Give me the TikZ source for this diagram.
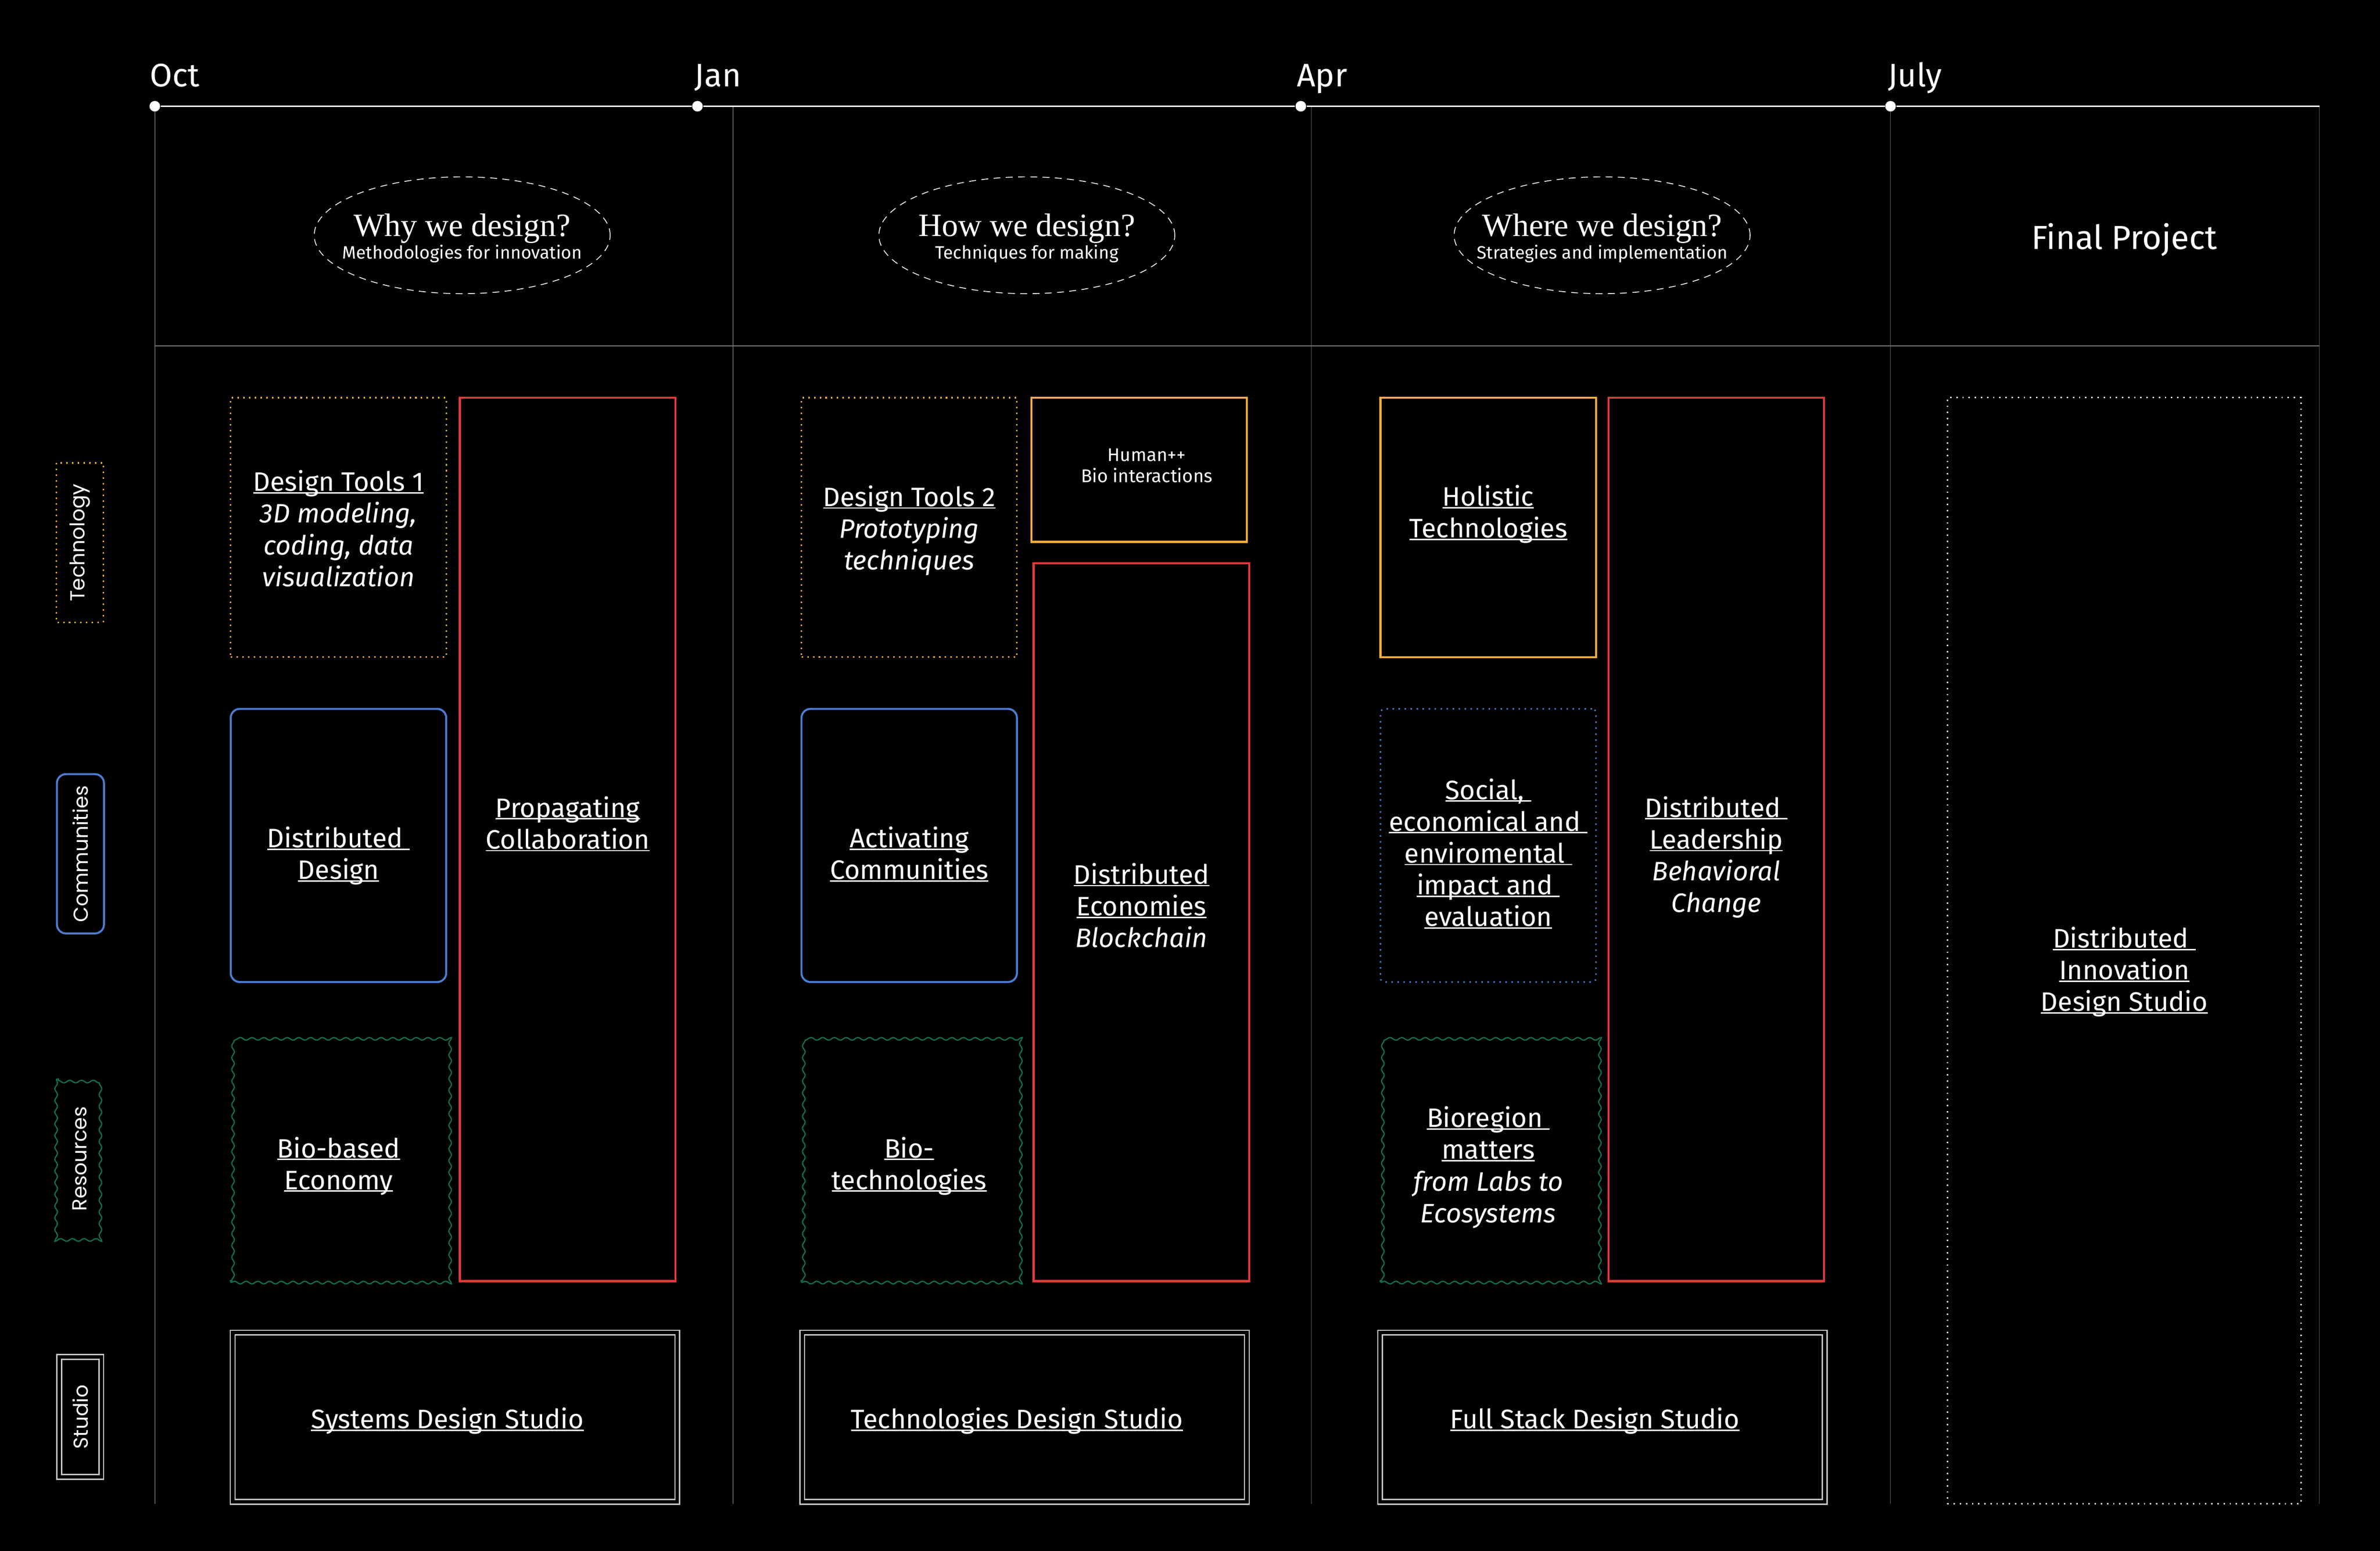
\documentclass[tikz,border=0pt]{standalone}
\usepackage{fontspec}
\setmainfont{Fira Sans}
\newfontfamily\serifface{Liberation Serif}
\newfontfamily\axisface{Poppins}
\usetikzlibrary{positioning, shapes.geometric, decorations.pathmorphing}

\definecolor{techorange}{RGB}{246,174,60}
\definecolor{leadred}{RGB}{226,58,58}
\definecolor{commblue}{RGB}{76,124,210}
\definecolor{resgreen}{RGB}{16,112,84}
\definecolor{gridgray}{RGB}{92,92,92}
\definecolor{rulegray}{RGB}{128,128,128}
\definecolor{studiogray}{RGB}{200,200,200}

\newcommand\boxfont{\fontsize{10pt}{11.9pt}\selectfont}
\newcommand\humanfont{\fontsize{6.9pt}{8pt}\selectfont}
\newcommand\subqfont{\fontsize{6.7pt}{8.5pt}\selectfont}
\newcommand\questfont{\serifface\fontsize{12.2pt}{8.5pt}\selectfont}
\newcommand\monthfont{\fontsize{12.2pt}{14pt}\selectfont}
\newcommand\finalfont{\fontsize{12.5pt}{15pt}\selectfont}
\newcommand\axisfont{\axisface\fontsize{7.6pt}{9pt}\selectfont}
\newcommand\lineunder[1]{\setbox0\hbox{#1}\rlap{\rule[-0.9pt]{\wd0}{0.5pt}}\box0}

\begin{document}
\begin{tikzpicture}[x=0.02cm, y=-0.02cm,
        grid line/.style={draw=gridgray, line width=0.28pt},
        timeline/.style={draw=white, line width=0.7pt},
        dot/.style={circle, fill=white, inner sep=0pt, minimum size=0.14cm},
        month node/.style={text=white, inner sep=0pt, font=\monthfont, anchor=base west},
        question node/.style={ellipse, draw=white, line width=0.3pt, dash pattern=on 2.6pt off 2pt,
            minimum width=3.9cm, minimum height=1.54cm, inner sep=0pt},
        question text/.style={text=white, align=center, inner sep=0pt, font=\subqfont, yshift=-0.04cm},
        box text/.style={text=white, align=center, inner sep=0pt, font=\boxfont},
        cell/.style={rectangle, inner sep=0pt, minimum width=2.84cm},
        tech dots/.style={draw=techorange, line width=0.55pt, dash pattern=on 0.55pt off 1.6pt},
        tech line/.style={draw=techorange, line width=0.8pt},
        lead line/.style={draw=leadred, line width=0.85pt},
        comm line/.style={draw=commblue, line width=0.75pt, rounded corners=3.4pt},
        comm dots/.style={draw=commblue, line width=0.55pt, dash pattern=on 0.55pt off 1.7pt, rounded corners=1.5pt},
        res line/.style={draw=resgreen, line width=0.45pt, decorate,
            decoration={snake, segment length=4.4pt, amplitude=0.5pt}},
        studio line/.style={draw=studiogray, line width=0.45pt, double=black, double distance=1.3pt},
        studio box/.style={rectangle, studio line, inner sep=0pt, minimum width=5.86cm, minimum height=2.23cm},
        final box/.style={rectangle, draw=white, line width=0.5pt, dash pattern=on 0.5pt off 1.8pt,
            inner sep=0pt, minimum width=4.66cm, minimum height=14.58cm},
        axis node/.style={rectangle, rotate=90, inner sep=0pt, minimum width=2.1cm, minimum height=0.62cm,
            text=white, font=\axisfont}]

    \fill[black] (0,0) rectangle (1568,1021.8);

    % columns and header rule
    \foreach \x in {102,483,864,1245.5,1528}
        \draw[grid line] (\x,70) -- (\x,991);
    \draw[grid line, draw=rulegray, line width=0.35pt] (102,228) -- (1528,228);

    % timeline
    \node[dot] (oct) at (102,70) {};
    \node[dot] (jan) at (459.5,70) {};
    \node[dot] (apr) at (857,70) {};
    \node[dot] (july) at (1245.5,70) {};
    \coordinate (timeline end) at (1528,70);
    \draw[timeline] (oct) -- (jan) -- (apr) -- (july) -- (timeline end);

    \node[month node] (oct label) at ([shift={(-3.6,-13)}]oct) {Oct};
    \node[month node] (jan label) at ([shift={(-2.2,-13)}]jan) {Jan};
    \node[month node] (apr label) at ([shift={(-3,-13)}]apr) {Apr};
    \node[month node] (july label) at ([shift={(-2.1,-13)}]july) {July};

    % questions
    \node[question node] (why) at (304.5,155) {};
    \node[question text] (why text) at (why) {{\questfont Why we design?}\\Methodologies for innovation};
    \node[question node] (how) at (676.5,155) {};
    \node[question text] (how text) at (how) {{\questfont How we design?}\\Techniques for making};
    \node[question node] (where) at (1055.5,155) {};
    \node[question text] (where text) at (where) {{\questfont Where we design?}\\Strategies and implementation};
    \node[text=white, inner sep=0pt, font=\finalfont] (final title) at (1399.5,158) {Final Project};

    % row labels
    \node[axis node, tech dots] (technology) at (52.5,357.5) {Technology};
    \node[axis node, comm line] (communities) at (53,562.5) {Communities};
    \node[axis node, res line] (resources) at (52.5,763.5) {Resources};
    \node[axis node, studio line, minimum width=1.58cm, minimum height=0.556cm] (studio) at (52.9,933.5) {Studio};

    % first term
    \node[cell, tech dots, minimum height=3.42cm] (tools1) at (223,347.5) {};
    \node[cell, lead line, minimum height=11.64cm] (propagate) at (374,553) {};
    \node[cell, comm line, minimum height=3.6cm] (distdesign) at (223,557) {};
    \node[cell, res line, minimum height=3.28cm] (bioeco) at (223,763) {};
    \node[studio box] (systems) at (299.75,933.7) {};

    \node[box text, below=0.96cm of tools1.north] (tools1 text)
        {\lineunder{Design Tools 1}\\\textit{3D modeling,}\\\textit{coding, data}\\\textit{visualization}};
    \node[box text, below=5.26cm of propagate.north] (propagate text)
        {\lineunder{Propagating}\\\lineunder{Collaboration}};
    \node[box text, below=1.56cm of distdesign.north] (distdesign text)
        {\lineunder{Distributed\ }\\\lineunder{Design}};
    \node[box text, below=1.36cm of bioeco.north] (bioeco text)
        {\lineunder{Bio-based}\\\lineunder{Economy}};
    \node[box text, xshift=-0.1cm, yshift=-0.05cm] (systems text) at (systems)
        {\lineunder{Systems Design Studio}};

    % second term
    \node[cell, tech dots, minimum height=3.42cm] (tools2) at (599,347.5) {};
    \node[cell, tech line, minimum height=1.9cm] (human) at (750.5,309.5) {};
    \node[cell, lead line, minimum height=9.46cm] (economies) at (752,607.5) {};
    \node[cell, comm line, minimum height=3.6cm] (activate) at (599,557) {};
    \node[cell, res line, minimum height=3.28cm] (biotech) at (599,763) {};
    \node[studio box] (technologies) at (675,933.7) {};

    \node[box text, below=1.16cm of tools2.north] (tools2 text)
        {\lineunder{Design Tools 2}\\\textit{Prototyping}\\\textit{techniques}};
    \node[box text, font=\humanfont, xshift=0.1cm, yshift=0.056cm] (human text) at (human)
        {Human++\\Bio interactions};
    \node[box text, below=3.96cm of economies.north] (economies text)
        {\lineunder{Distributed}\\\lineunder{Economies}\\\textit{Blockchain}};
    \node[box text, below=1.56cm of activate.north] (activate text)
        {\lineunder{Activating}\\\lineunder{Communities}};
    \node[box text, below=1.36cm of biotech.north] (biotech text)
        {\lineunder{Bio-}\\\lineunder{technologies}};
    \node[box text, xshift=-0.1cm, yshift=-0.05cm] (technologies text) at (technologies)
        {\lineunder{Technologies Design Studio}};

    % third term
    \node[cell, tech line, minimum height=3.42cm] (holistic) at (980.5,347.5) {};
    \node[cell, lead line, minimum height=11.64cm] (leadership) at (1130.7,553) {};
    \node[cell, comm dots, minimum height=3.6cm] (impact) at (980.5,557) {};
    \node[cell, res line, minimum height=3.28cm] (bioregion) at (980.5,763) {};
    \node[studio box] (fullstack) at (1055.7,933.7) {};

    \node[box text, below=1.16cm of holistic.north] (holistic text)
        {\lineunder{Holistic}\\\lineunder{Technologies}};
    \node[box text, below=5.26cm of leadership.north] (leadership text)
        {\lineunder{Distributed\ }\\\lineunder{Leadership}\\\textit{Behavioral}\\\textit{Change}};
    \node[box text, below=0.92cm of impact.north] (impact text)
        {\lineunder{Social,\ }\\\lineunder{economical and\ }\\\lineunder{enviromental\ }\\\lineunder{impact and\ }\\\lineunder{evaluation}};
    \node[box text, below=0.96cm of bioregion.north] (bioregion text)
        {\lineunder{Bioregion\ }\\\lineunder{matters}\\\textit{from Labs to}\\\textit{Ecosystems}};
    \node[box text, xshift=-0.1cm, yshift=-0.05cm] (fullstack text) at (fullstack)
        {\lineunder{Full Stack Design Studio}};

    % final project
    \node[final box] (innovation) at (1399.5,626.3) {};
    \node[box text, below=6.98cm of innovation.north] (innovation text)
        {\lineunder{Distributed\ }\\\lineunder{Innovation}\\\lineunder{Design Studio}};
\end{tikzpicture}
\end{document}
